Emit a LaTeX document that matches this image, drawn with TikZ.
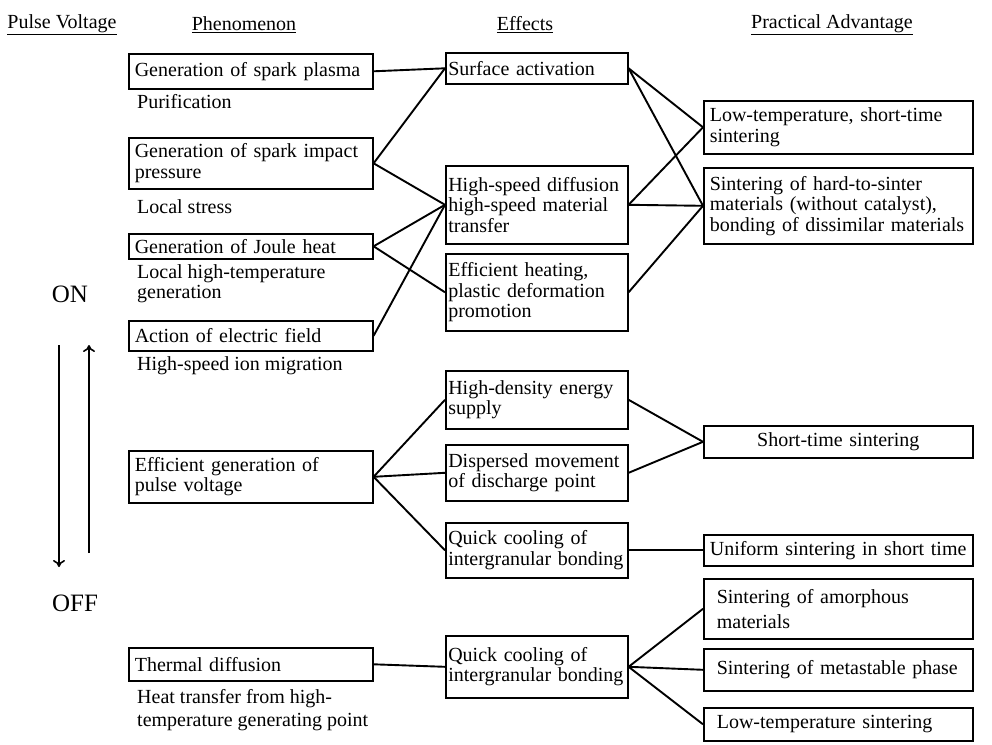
\documentclass[tikz,border=0pt]{standalone}
\usepackage{fontspec}
\setmainfont{Liberation Serif}
\usetikzlibrary{arrows.meta}
\newcommand{\boxfont}{\fontsize{20}{20.5}\selectfont}
\newcommand{\bigfont}{\fontsize{25}{28}\selectfont}

\begin{document}
\begin{tikzpicture}[x=1pt,y=-1pt]
    \tikzset{box/.style={draw,line width=1.6pt,anchor=north west,align=left,
      inner xsep=6pt,inner ysep=2pt,font=\boxfont},
      phen/.style={box,text width=232pt},
      eff/.style={box,text width=177pt,inner xsep=2.5pt},
      adv/.style={box,text width=257pt},
      ind/.style={box,text width=243pt,inner xsep=13pt},
      note/.style={anchor=north west,align=left,inner sep=0pt,font=\boxfont},
      head/.style={font=\boxfont},
      link/.style={line width=1.9pt}}
    \useasboundingbox (0,0) rectangle (992,744);
    % column titles
    \node[head] (hvolt) at (62,25) {\underline{Pulse Voltage}};
    \node[head] (hphen) at (244,25) {\underline{Phenomenon}};
    \node[head] (heff) at (525,25) {\underline{Effects}};
    \node[head] (hadv) at (832,25) {\underline{Practical Advantage}};
    % phenomenon
    \node[phen,minimum height=35pt] (plasma) at (128,53) {Generation of spark plasma};
    \node[phen,minimum height=51pt] (impact) at (128,137) {Generation of spark impact\\pressure};
    \node[phen,minimum height=25pt] (joule) at (128,233) {Generation of Joule heat};
    \node[phen,minimum height=30pt] (field) at (128,320) {Action of electric field};
    \node[phen,minimum height=52pt] (pulse) at (128,450) {Efficient generation of\\pulse voltage};
    \node[phen,minimum height=33pt] (thermal) at (128,647) {Thermal diffusion};
    \node[note] (purif) at (137,94) {Purification};
    \node[note] (stress) at (137,199) {Local stress};
    \node[note] (hightemp) at (137,264) {Local high-temperature\\generation};
    \node[note] (ionmig) at (137,356) {High-speed ion migration};
    \node[note] (heattr) at (137,689) {Heat transfer from high-\\[3pt]temperature generating point};
    % effects
    \node[eff,minimum height=31pt] (activ) at (445,52) {Surface activation};
    \node[eff,minimum height=78pt] (diffus) at (445,165) {High-speed diffusion\\high-speed material\\transfer};
    \node[eff,minimum height=77pt] (heating) at (445,253) {Efficient heating,\\plastic deformation\\promotion};
    \node[eff,minimum height=58pt] (energy) at (445,370) {High-density energy\\supply};
    \node[eff,minimum height=56pt] (dispers) at (445,444) {Dispersed movement\\of discharge point};
    \node[eff,minimum height=55pt] (coolA) at (445,522) {Quick cooling of\\intergranular bonding};
    \node[eff,minimum height=62pt] (coolB) at (445,635) {Quick cooling of\\intergranular bonding};
    % practical advantage
    \node[adv,minimum height=53pt] (lowshort) at (703,100) {Low-temperature, short-time\\sintering};
    \node[adv,minimum height=76pt] (hard) at (703,167) {Sintering of hard-to-sinter\\materials (without catalyst),\\bonding of dissimilar materials};
    \node[adv,align=center,minimum height=32pt] (short) at (703,425) {Short-time sintering};
    \node[adv,minimum height=31pt] (uniform) at (703,534) {Uniform sintering in short time};
    \node[ind,minimum height=60pt] (amorph) at (703,578) {Sintering of amorphous\\[5pt]materials};
    \node[ind,minimum height=42pt] (metast) at (703,648) {Sintering of metastable phase};
    \node[ind,minimum height=33pt] (lowtemp) at (703,707) {Low-temperature sintering};
    % on / off
    \node[font=\bigfont] (on) at (70,294) {ON};
    \node[font=\bigfont] (off) at (75,603) {OFF};
    \coordinate (downtop) at (59,345);
    \coordinate (downend) at (59,567);
    \coordinate (uptop) at (89,345);
    \coordinate (upend) at (89,553);
    \draw[line width=1.6pt,-{To[length=7pt,width=12pt]}] (downtop) -- (downend);
    \draw[line width=1.6pt,-{To[length=7pt,width=12pt]}] (upend) -- (uptop);
    % links
    \draw[link] (plasma.east) -- (activ.west);
    \draw[link] (impact.east) -- (activ.west);
    \draw[link] (impact.east) -- (diffus.west);
    \draw[link] (joule.east) -- (diffus.west);
    \draw[link] (joule.east) -- (heating.west);
    \draw[link] (field.east) -- (diffus.west);
    \draw[link] (activ.east) -- (lowshort.west);
    \draw[link] (activ.east) -- (hard.west);
    \draw[link] (diffus.east) -- (lowshort.west);
    \draw[link] (diffus.east) -- (hard.west);
    \draw[link] (heating.east) -- (hard.west);
    \draw[link] (pulse.east) -- (energy.west);
    \draw[link] (pulse.east) -- (dispers.west);
    \draw[link] (pulse.east) -- (coolA.west);
    \draw[link] (energy.east) -- (short.west);
    \draw[link] (dispers.east) -- (short.west);
    \draw[link] (coolA.east) -- (uniform.west);
    \draw[link] (thermal.east) -- (coolB.west);
    \draw[link] (coolB.east) -- (amorph.west);
    \draw[link] (coolB.east) -- (metast.west);
    \draw[link] (coolB.east) -- (lowtemp.west);
  \end{tikzpicture}
\end{document}
